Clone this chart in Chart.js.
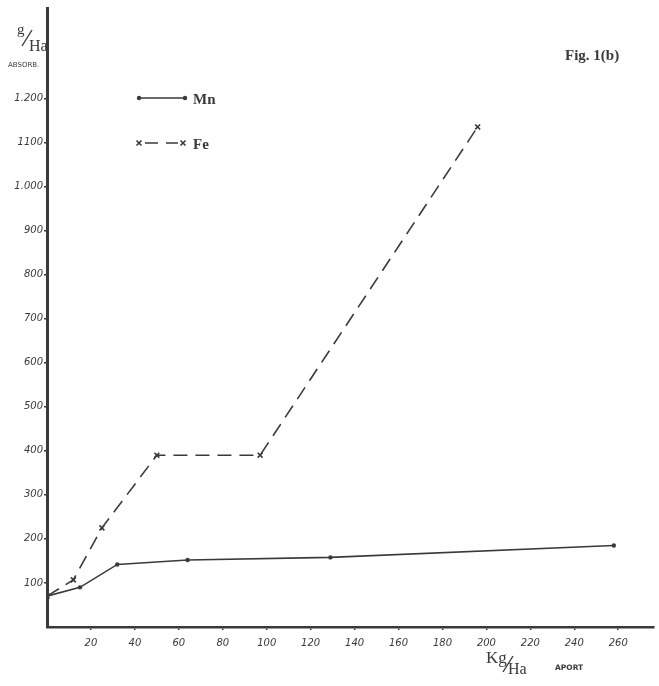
<!DOCTYPE html>
<html>
<head>
<meta charset="utf-8">
<script src="https://cdn.jsdelivr.net/npm/chart.js@4.4.1/dist/chart.umd.min.js"></script>
<style>
  html, body { margin: 0; padding: 0; background: #fff; }
  #wrap { position: relative; width: 659px; height: 686px; }
  canvas { display: block; }
</style>
</head>
<body>
<div id="wrap"><canvas id="c" width="659" height="686"></canvas></div>
<script>
// Applied dose (kg/ha) and absorbed amount (g/ha)
const mnDose = [0, 15, 32, 64, 129, 258];
const mnAbsorbed = [70, 90, 142, 152, 158, 185];
const feDose = [0, 12, 25, 50, 97, 196];
const feAbsorbed = [70, 107, 225, 390, 390, 1135];

const xTickValues = [20, 40, 60, 80, 100, 120, 140, 160, 180, 200, 220, 240, 260];
const yTickValues = [100, 200, 300, 400, 500, 600, 700, 800, 900, 1000, 1100, 1200];
const yTickLabels = ['100', '200', '300', '400', '500', '600', '700', '800', '900', '1.000', '1100', '1.200'];

const ink = '#3a3a3a';
const tickFont = { family: 'DejaVu Sans', style: 'italic', size: 10 };

function pairs(xs, ys) { return xs.map((x, i) => ({ x: x, y: ys[i] })); }

// Legend, figure tag and axis captions
const annotations = {
  id: 'annotations',
  afterDraw(chart) {
    const ctx = chart.ctx;
    ctx.save();
    ctx.fillStyle = ink;
    ctx.strokeStyle = ink;
    ctx.textBaseline = 'alphabetic';

    // legend: Mn
    ctx.lineWidth = 1.6;
    ctx.setLineDash([]);
    ctx.beginPath(); ctx.moveTo(139, 98); ctx.lineTo(185, 98); ctx.stroke();
    [139, 185].forEach(x => { ctx.beginPath(); ctx.arc(x, 98, 2.2, 0, Math.PI * 2); ctx.fill(); });
    ctx.font = 'bold 15px "Liberation Serif"';
    ctx.fillText('Mn', 193, 104);

    // legend: Fe
    ctx.beginPath();
    ctx.moveTo(145, 143); ctx.lineTo(158, 143);
    ctx.moveTo(166, 143); ctx.lineTo(178, 143);
    ctx.stroke();
    [139, 183].forEach(x => {
      ctx.beginPath();
      ctx.moveTo(x - 2.5, 140.5); ctx.lineTo(x + 2.5, 145.5);
      ctx.moveTo(x + 2.5, 140.5); ctx.lineTo(x - 2.5, 145.5);
      ctx.stroke();
    });
    ctx.fillText('Fe', 193, 149);

    // figure tag
    ctx.font = 'bold 15px "Liberation Serif"';
    ctx.fillText('Fig. 1(b)', 565, 60);

    // y caption
    ctx.font = '15px "Liberation Serif"';
    ctx.fillText('g', 17, 34);
    ctx.lineWidth = 1.4;
    ctx.beginPath(); ctx.moveTo(22, 46); ctx.lineTo(32, 30); ctx.stroke();
    ctx.font = '16px "Liberation Serif"';
    ctx.fillText('Ha', 29, 51);
    ctx.font = '7px "DejaVu Sans"';
    ctx.fillText('ABSORB.', 8, 67);

    // x caption
    ctx.font = '17px "Liberation Serif"';
    ctx.fillText('Kg', 486, 663);
    ctx.lineWidth = 1.4;
    ctx.beginPath(); ctx.moveTo(503, 672); ctx.lineTo(513, 656); ctx.stroke();
    ctx.font = '16px "Liberation Serif"';
    ctx.fillText('Ha', 508, 674);
    ctx.font = 'bold 7.5px "DejaVu Sans"';
    ctx.fillText('APORT', 555, 670);
    ctx.restore();
  }
};

new Chart(document.getElementById('c'), {
  type: 'line',
  data: {
    datasets: [
      {
        label: 'Mn',
        data: pairs(mnDose, mnAbsorbed),
        borderColor: ink,
        backgroundColor: ink,
        borderWidth: 1.6,
        pointStyle: 'circle',
        pointRadius: 2.2,
        pointBorderWidth: 0,
        tension: 0
      },
      {
        label: 'Fe',
        data: pairs(feDose, feAbsorbed),
        borderColor: ink,
        backgroundColor: ink,
        borderWidth: 1.6,
        borderDash: [14, 8],
        pointStyle: 'crossRot',
        pointRadius: 3.5,
        pointBorderWidth: 1.6,
        tension: 0
      }
    ]
  },
  options: {
    responsive: false,
    animation: false,
    layout: { padding: { top: 8, right: 4, left: 0, bottom: 0 } },
    plugins: { legend: { display: false }, tooltip: { enabled: false } },
    scales: {
      x: {
        type: 'linear',
        min: 0,
        max: 276,
        afterFit(scale) { scale.height = 59; },
        afterBuildTicks(scale) { scale.ticks = xTickValues.map(v => ({ value: v })); },
        grid: { display: true, drawOnChartArea: false, tickLength: 3, color: ink, lineWidth: 1.5 },
        border: { display: true, color: ink, width: 2.5 },
        ticks: { color: ink, font: tickFont, padding: 7, maxRotation: 0, autoSkip: false }
      },
      y: {
        type: 'linear',
        min: 0,
        max: 1405,
        afterFit(scale) { scale.width = 47; },
        afterBuildTicks(scale) { scale.ticks = yTickValues.map(v => ({ value: v })); },
        grid: { display: true, drawOnChartArea: false, tickLength: 3, color: ink, lineWidth: 1.5 },
        border: { display: true, color: ink, width: 3 },
        ticks: {
          color: ink,
          font: tickFont,
          padding: 1,
          autoSkip: false,
          callback: (v) => {
            const i = yTickValues.indexOf(v);
            return i >= 0 ? yTickLabels[i] : '';
          }
        }
      }
    }
  },
  plugins: [annotations]
});
</script>
</body>
</html>
